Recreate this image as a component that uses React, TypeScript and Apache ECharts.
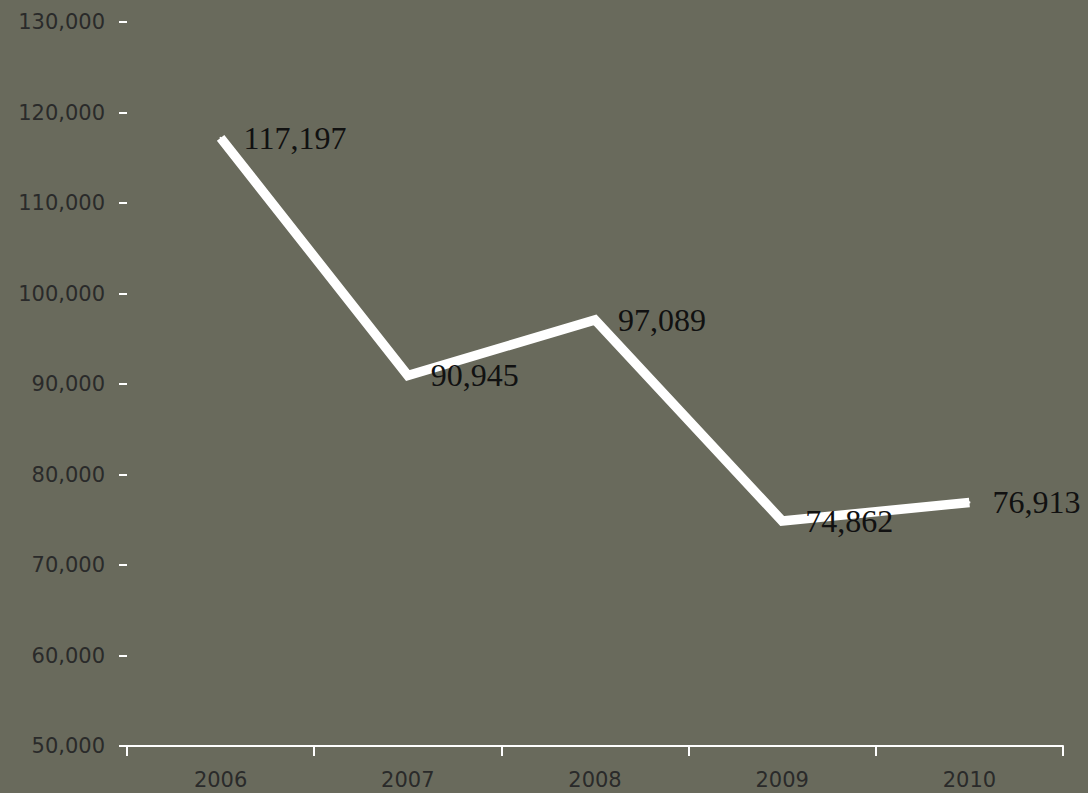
import React, { useEffect, useRef } from "react";
import * as echarts from "echarts";

const years = ["2006", "2007", "2008", "2009", "2010"];
const values = [117197, 90945, 97089, 74862, 76913];
const yMin = 50000;
const yMax = 130000;
const yStep = 10000;

const fmt = (v: number) => String(v).replace(/\B(?=(\d{3})+(?!\d))/g, ",");

export default function App() {
  const ref = useRef<HTMLDivElement>(null);
  useEffect(() => {
    document.body.style.margin = "0";
    const chart = echarts.init(ref.current!, null, { renderer: "svg" });
    chart.setOption({
      animation: false,
      backgroundColor: "#696a5c",
      grid: { left: 127, right: 25, top: 22, bottom: 47 },
      xAxis: {
        type: "category",
        data: years,
        boundaryGap: true,
        axisLine: { show: true, lineStyle: { color: "#ffffff", width: 2 } },
        axisTick: { show: true, alignWithLabel: false, length: 10, lineStyle: { color: "#ffffff", width: 2 } },
        axisLabel: { color: "#2a2a2a", fontFamily: "DejaVu Sans", fontSize: 21, margin: 23 },
        splitLine: { show: false },
      },
      yAxis: {
        type: "value",
        min: yMin,
        max: yMax,
        interval: yStep,
        axisLine: { show: false },
        axisTick: { show: true, length: 8, lineStyle: { color: "#ffffff", width: 2 } },
        axisLabel: {
          color: "#2a2a2a",
          fontFamily: "DejaVu Sans",
          fontSize: 21,
          margin: 22,
          formatter: (v: number) => fmt(v),
        },
        splitLine: { show: false },
      },
      series: [
        {
          type: "line",
          data: values,
          showSymbol: true,
          symbol: "circle",
          symbolSize: 2,
          itemStyle: { color: "#ffffff" },
          lineStyle: { color: "#ffffff", width: 9.5, cap: "butt", join: "miter" },
          label: {
            show: true,
            position: "right",
            distance: 22,
            color: "#111111",
            fontFamily: "Liberation Serif",
            fontSize: 32,
            formatter: (p: any) => fmt(p.value),
          },
        },
      ],
    });
    return () => chart.dispose();
  }, []);
  return <div ref={ref} style={{ position: "fixed", left: 0, top: 0, width: 1088, height: 793 }} />;
}
